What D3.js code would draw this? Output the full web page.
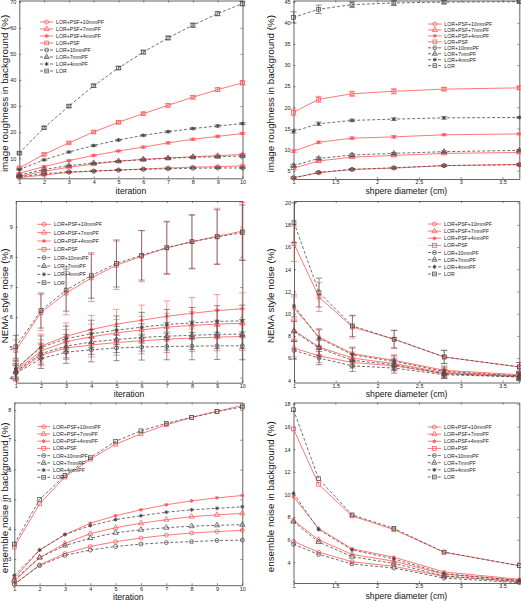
<!DOCTYPE html>
<html><head><meta charset="utf-8">
<script src="https://cdn.jsdelivr.net/npm/d3@7"></script>
<style>body{margin:0;background:#fff}svg{display:block}text{font-family:"Liberation Sans",Arial,sans-serif}</style>
</head><body><svg id="c" width="521" height="601"></svg>
<script>
// ---------- data ----------
const seriesNames = ["LOR+PSF+10mmPF","LOR+PSF+7mmPF","LOR+PSF+4mmPF","LOR+PSF","LOR+10mmPF","LOR+7mmPF","LOR+4mmPF","LOR"];
const iterations = [1,2,3,4,5,6,7,8,9,10];
const diameters = [1,1.3,1.7,2.2,2.8,3.7];
const iterTicks = [1,2,3,4,5,6,7,8,9,10];
const diamTicks = [1,1.5,2,2.5,3,3.5];

const roughIterTicks = [10,20,30,40,50,60,70];
const roughIterVals = [
  [2.6,3.6,4.6,5.1,5.5,5.9,6.3,6.6,6.8,7.1],
  [3.1,5.0,6.6,7.8,8.9,9.6,10.1,10.6,11.0,11.5],
  [4.3,6.8,9.1,11.1,12.8,14.3,15.9,17.3,18.4,19.5],
  [6.3,11.5,15.9,20.1,23.8,27.1,30.3,33.4,36.3,38.9],
  [2.9,4.1,4.8,5.1,5.5,5.8,6.0,6.2,6.3,6.3],
  [3.6,5.7,7.2,8.2,8.9,9.5,10.0,10.4,10.6,10.9],
  [5.7,9.4,12.4,14.9,17.0,18.8,20.2,21.4,22.4,23.3],
  [12.0,21.7,30.0,37.8,44.6,50.7,56.1,61.0,65.4,69.3]
];
const roughIterErr = [
  [0.2,0.2,0.2,0.2,0.2,0.2,0.2,0.2,0.3,0.3],
  [0.2,0.2,0.2,0.3,0.3,0.3,0.3,0.3,0.3,0.3],
  [0.2,0.3,0.3,0.3,0.3,0.4,0.4,0.4,0.4,0.4],
  [0.3,0.4,0.4,0.5,0.5,0.5,0.6,0.6,0.7,0.7],
  [0.2,0.2,0.2,0.2,0.2,0.2,0.2,0.2,0.2,0.2],
  [0.2,0.2,0.2,0.2,0.2,0.3,0.3,0.3,0.3,0.3],
  [0.2,0.3,0.3,0.3,0.3,0.3,0.4,0.4,0.4,0.4],
  [0.4,0.5,0.5,0.6,0.6,0.7,0.7,0.8,0.8,0.9]
];

const roughDiamTicks = [5,10,15,20,25,30,35,40,45];
const roughDiamVals = [
  [3.3,4.5,5.3,5.6,6.2,6.5],
  [5.6,7.3,8.2,8.6,9.1,9.3],
  [9.6,11.7,12.7,13.0,13.5,13.7],
  [18.8,21.9,23.2,23.8,24.3,24.6],
  [3.3,4.6,5.3,5.7,6.2,6.4],
  [6.2,7.9,8.7,9.1,9.5,9.8],
  [14.3,16.1,16.9,17.2,17.5,17.6],
  [41.3,43.2,44.3,44.7,44.9,45.0]
];
const roughDiamErr = [
  [0.2,0.2,0.2,0.2,0.2,0.2],
  [0.3,0.3,0.2,0.2,0.2,0.2],
  [0.3,0.3,0.3,0.3,0.2,0.2],
  [0.8,0.7,0.6,0.6,0.4,0.4],
  [0.2,0.2,0.2,0.2,0.2,0.2],
  [0.3,0.3,0.3,0.2,0.2,0.2],
  [0.4,0.4,0.3,0.3,0.3,0.2],
  [1.3,1.0,0.7,0.6,0.4,0.3]
];

const nemaIterTicks = [4,5,6,7,8,9];
const nemaIterVals = [
  [4.16,4.74,4.98,5.08,5.16,5.22,5.27,5.31,5.34,5.36],
  [4.22,4.88,5.19,5.35,5.48,5.58,5.67,5.73,5.77,5.80],
  [4.25,5.04,5.37,5.59,5.77,5.90,6.03,6.13,6.22,6.28],
  [4.90,6.15,6.80,7.30,7.72,8.02,8.30,8.50,8.68,8.85],
  [4.14,4.63,4.84,4.92,4.98,5.01,5.03,5.04,5.05,5.05],
  [4.20,4.79,5.04,5.18,5.26,5.33,5.37,5.40,5.43,5.44],
  [4.30,5.00,5.29,5.45,5.57,5.67,5.76,5.81,5.86,5.88],
  [5.02,6.22,6.90,7.38,7.78,8.05,8.30,8.50,8.66,8.80]
];
const nemaIterErr = [
  [0.25,0.35,0.38,0.40,0.42,0.43,0.44,0.45,0.45,0.46],
  [0.25,0.37,0.40,0.42,0.44,0.45,0.46,0.47,0.48,0.48],
  [0.28,0.40,0.44,0.47,0.49,0.50,0.51,0.52,0.53,0.53],
  [0.35,0.60,0.72,0.78,0.80,0.85,0.88,0.90,0.93,0.95],
  [0.25,0.33,0.37,0.40,0.42,0.43,0.44,0.45,0.45,0.46],
  [0.25,0.35,0.39,0.41,0.43,0.45,0.46,0.47,0.47,0.48],
  [0.28,0.38,0.42,0.45,0.47,0.49,0.50,0.51,0.52,0.52],
  [0.38,0.58,0.70,0.75,0.78,0.82,0.86,0.88,0.90,0.92]
];

const nemaDiamTicks = [4,6,8,10,12,14,16,18,20];
const nemaDiamVals = [
  [6.9,6.2,5.6,5.3,4.6,4.35],
  [8.5,7.0,6.0,5.5,4.7,4.4],
  [10.5,7.9,6.4,5.8,4.9,4.5],
  [16.3,11.5,8.8,7.7,6.1,5.2],
  [6.7,6.0,5.3,5.1,4.5,4.3],
  [8.4,6.9,5.8,5.4,4.6,4.3],
  [10.7,7.8,6.3,5.7,4.8,4.4],
  [18.2,11.9,8.9,7.7,6.1,5.2]
];
const nemaDiamErr = [
  [0.8,0.6,0.5,0.45,0.35,0.3],
  [0.9,0.7,0.55,0.5,0.4,0.3],
  [1.0,0.75,0.6,0.5,0.4,0.3],
  [1.6,1.3,1.0,0.8,0.6,0.4],
  [0.8,0.6,0.5,0.45,0.35,0.3],
  [0.9,0.7,0.55,0.5,0.4,0.3],
  [1.0,0.75,0.6,0.5,0.4,0.3],
  [1.8,1.3,0.95,0.8,0.6,0.4]
];

const ensIterTicks = [3,4,5,6,7,8];
const ensIterVals = [
  [2.15,2.80,3.18,3.42,3.58,3.70,3.80,3.87,3.92,3.96],
  [2.25,3.05,3.52,3.85,4.05,4.20,4.32,4.42,4.48,4.53],
  [2.35,3.30,3.82,4.20,4.45,4.65,4.82,4.95,5.05,5.13],
  [3.40,4.85,5.75,6.35,6.85,7.20,7.50,7.75,7.95,8.15],
  [2.15,2.78,3.12,3.30,3.42,3.50,3.55,3.58,3.62,3.63],
  [2.30,3.05,3.45,3.70,3.88,3.98,4.05,4.10,4.13,4.15],
  [2.45,3.30,3.82,4.12,4.32,4.45,4.57,4.65,4.70,4.75],
  [3.50,5.00,5.80,6.40,6.95,7.30,7.55,7.75,7.95,8.10]
];

const ensDiamTicks = [4,6,8,10,12,14,16,18];
const ensDiamVals = [
  [5.85,4.9,4.05,3.65,2.75,2.3],
  [7.7,6.0,4.7,4.1,2.95,2.4],
  [9.8,7.0,5.2,4.45,3.15,2.5],
  [15.8,10.9,8.1,6.9,4.9,3.7],
  [5.6,4.7,3.85,3.5,2.6,2.2],
  [7.6,5.8,4.5,3.9,2.8,2.3],
  [10.1,6.9,5.1,4.3,3.0,2.4],
  [17.5,11.4,8.2,7.0,4.9,3.7]
];

// ---------- styling / layout ----------
const RED = "#ff5555", BLK = "#4a4a4a";
const seriesColor = i => i < 4 ? RED : BLK;
const seriesDash = i => i < 4 ? null : "3,2";
const markerType = ["circle","triangle","star","square","circle","triangle","star","square"];

const panels = [
  {box:[19.3,242.5,0.5,178.3], xd:[1,10], yd:[2.34,70.46], xs:iterations, vals:roughIterVals, errs:roughIterErr,
   xt:iterTicks, yt:roughIterTicks, xTitle:"iteration", yTitle:"image roughness in background (%)",
   xTitleY:191.2, yTitleX:4.5, leg:[40,53.3,56,22,7]},
  {box:[293.5,519.3,0.5,179], xd:[1,3.7], yd:[3.03,45.28], xs:diameters, vals:roughDiamVals, errs:roughDiamErr,
   xt:diamTicks, yt:roughDiamTicks, xTitle:"shpere diameter (cm)", yTitle:"image roughness in background (%)",
   xTitleY:191.2, yTitleX:270.5, leg:[428,441.7,444.3,24,5.95]},
  {box:[15.8,242.3,201,382.7], xd:[1,10], yd:[3.83,9.85], xs:iterations, vals:nemaIterVals, errs:nemaIterErr,
   xt:iterTicks, yt:nemaIterTicks, xTitle:"iteration", yTitle:"NEMA style noise (%)",
   xTitleY:394.2, yTitleX:4.5, leg:[37.3,50.7,54,224.3,8.34]},
  {box:[294,519.3,201,382.5], xd:[1,3.7], yd:[3.8,20.15], xs:diameters, vals:nemaDiamVals, errs:nemaDiamErr,
   xt:diamTicks, yt:nemaDiamTicks, xTitle:"shpere diameter (cm)", yTitle:"NEMA style noise (%)",
   xTitleY:394.2, yTitleX:270.5, leg:[428,441,444,224,7.14]},
  {box:[14.3,242.3,402.5,585.2], xd:[1,10], yd:[2.12,8.25], xs:iterations, vals:ensIterVals, errs:null,
   xt:iterTicks, yt:ensIterTicks, xTitle:"iteration", yTitle:"ensemble noise in background (%)",
   xTitleY:596.6, yTitleX:4.5, leg:[37.3,50,53,426.7,7.23]},
  {box:[293.5,519.3,402.5,583], xd:[1,3.7], yd:[2.17,18.14], xs:diameters, vals:ensDiamVals, errs:null,
   xt:diamTicks, yt:ensDiamTicks, xTitle:"shpere diameter (cm)", yTitle:"ensemble noise in background (%)",
   xTitleY:595.8, yTitleX:270.5, leg:[427.7,441,444,427,7.14]}
];

const svg = d3.select("#c");

function drawMarker(g, type, cx, cy, color) {
  const sw = 0.75;
  if (type === "circle") {
    g.append("circle").attr("cx",cx).attr("cy",cy).attr("r",2.0)
      .attr("fill","none").attr("stroke",color).attr("stroke-width",sw);
  } else if (type === "triangle") {
    g.append("path").attr("d", d3.symbol(d3.symbolTriangle, 12)())
      .attr("transform",`translate(${cx},${cy})`)
      .attr("fill","none").attr("stroke",color).attr("stroke-width",sw);
  } else if (type === "square") {
    g.append("rect").attr("x",cx-1.9).attr("y",cy-1.9).attr("width",3.8).attr("height",3.8)
      .attr("fill","none").attr("stroke",color).attr("stroke-width",sw);
  } else {
    g.append("path").attr("d","M-1.9,0H1.9M0,-1.9V1.9M-1.3,-1.3L1.3,1.3M-1.3,1.3L1.3,-1.3")
      .attr("transform",`translate(${cx},${cy})`)
      .attr("fill","none").attr("stroke",color).attr("stroke-width",1);
  }
}

panels.forEach(p => {
  const [x0,x1,y0,y1] = p.box;
  const x = d3.scaleLinear().domain(p.xd).range([x0,x1]);
  const y = d3.scaleLinear().domain(p.yd).range([y1,y0]);
  const g = svg.append("g");
  const fmt = d => String(d);

  const styleAxis = a => {
    a.select(".domain").attr("stroke","#222").attr("stroke-width",0.7);
    a.selectAll(".tick line").attr("stroke","#222").attr("stroke-width",0.5);
    a.selectAll("text").attr("font-size","5.5px").attr("fill","#222")
      .attr("font-family","'Liberation Sans',Arial,sans-serif");
  };
  g.append("g").attr("transform",`translate(0,${y1})`)
    .call(d3.axisBottom(x).tickValues(p.xt).tickFormat(fmt).tickSizeInner(-2).tickSizeOuter(0).tickPadding(1.5))
    .call(styleAxis);
  g.append("g").attr("transform",`translate(0,${y0})`)
    .call(d3.axisTop(x).tickValues(p.xt).tickFormat("").tickSizeInner(-2).tickSizeOuter(0))
    .call(styleAxis);
  g.append("g").attr("transform",`translate(${x0},0)`)
    .call(d3.axisLeft(y).tickValues(p.yt).tickFormat(fmt).tickSizeInner(-2).tickSizeOuter(0).tickPadding(3))
    .call(styleAxis);
  g.append("g").attr("transform",`translate(${x1},0)`)
    .call(d3.axisRight(y).tickValues(p.yt).tickFormat("").tickSizeInner(-2).tickSizeOuter(0))
    .call(styleAxis);

  g.append("text").attr("x",(x0+x1)/2).attr("y",p.xTitleY).attr("text-anchor","middle")
    .attr("dominant-baseline","central").attr("font-size","8.6px").attr("fill","#111").text(p.xTitle);
  g.append("text").attr("transform",`translate(${p.yTitleX},${(y0+y1)/2+4}) rotate(-90)`)
    .attr("text-anchor","middle").attr("dominant-baseline","central")
    .attr("font-size","9.8px").attr("fill","#111").text(p.yTitle);

  const line = d3.line().x((d,i)=>x(p.xs[i])).y(d=>y(d));
  p.vals.forEach((vals,si) => {
    const col = seriesColor(si);
    const sg = g.append("g");
    if (p.errs) {
      vals.forEach((v,i) => {
        const e = p.errs[si][i], cx = x(p.xs[i]);
        sg.append("line").attr("x1",cx).attr("x2",cx).attr("y1",y(v-e)).attr("y2",y(v+e))
          .attr("stroke",col).attr("stroke-width",0.6);
        [v-e, v+e].forEach(t => sg.append("line").attr("x1",cx-3.2).attr("x2",cx+3.2)
          .attr("y1",y(t)).attr("y2",y(t)).attr("stroke",col).attr("stroke-width",0.6));
      });
    }
    sg.append("path").attr("d",line(vals)).attr("fill","none").attr("stroke",col)
      .attr("stroke-width",0.8).attr("stroke-dasharray",seriesDash(si));
    vals.forEach((v,i) => drawMarker(sg, markerType[si], x(p.xs[i]), y(v), col));
  });

  const [lx0,lx1,tx,ly0,ldy] = p.leg;
  seriesNames.forEach((name,si) => {
    const ly = ly0 + si*ldy, col = seriesColor(si);
    g.append("line").attr("x1",lx0).attr("x2",lx1).attr("y1",ly).attr("y2",ly)
      .attr("stroke",col).attr("stroke-width",0.8).attr("stroke-dasharray",seriesDash(si));
    drawMarker(g, markerType[si], (lx0+lx1)/2, ly, col);
    g.append("text").attr("x",tx).attr("y",ly).attr("dominant-baseline","central")
      .attr("font-size","5.2px").attr("fill","#222").text(name);
  });
});
</script></body></html>
